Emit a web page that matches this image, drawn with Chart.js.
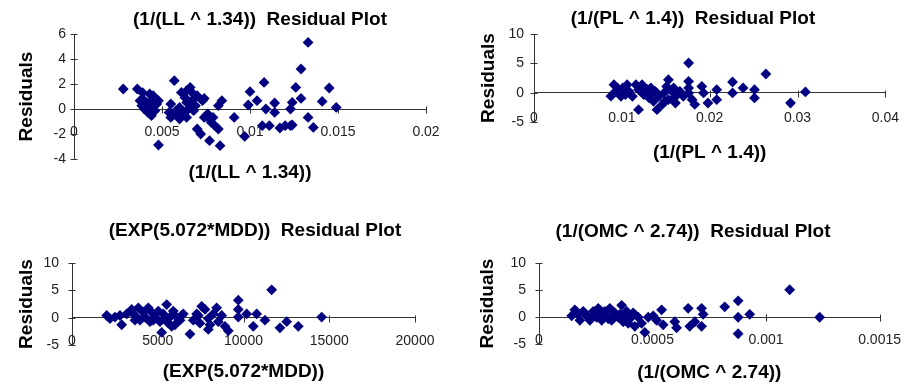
<!DOCTYPE html>
<html><head><meta charset="utf-8">
<script src="https://cdn.jsdelivr.net/npm/chart.js@4.4.0/dist/chart.umd.min.js"></script>
<style>
html,body{margin:0;padding:0;background:#fff;}
body{width:916px;height:387px;position:relative;overflow:hidden;}
canvas{position:absolute;}
</style></head><body>
<canvas id="c1" width="500" height="190" style="left:10px;top:0px;width:500px;height:190px"></canvas>
<canvas id="c2" width="446" height="170" style="left:470px;top:0px;width:446px;height:170px"></canvas>
<canvas id="c3" width="510" height="177" style="left:0px;top:210px;width:510px;height:177px"></canvas>
<canvas id="c4" width="446" height="177" style="left:470px;top:210px;width:446px;height:177px"></canvas>
<script>
// ---- (1/(LL ^ 1.34)) ----
const LL_X = [
  0.0028,0.0036,0.0039,0.0043,0.0045,0.00375,0.0041,0.00385,0.0040,0.0043,0.0042,0.0044,
  0.0047,0.0048,0.0055,0.0057,0.0054,0.0055,0.0058,0.0060,0.0061,0.0063,0.0064,0.0066,
  0.0067,0.0068,0.0066,0.0069,0.0062,0.0060,0.0064,0.0070,0.0074,0.0070,0.0072,0.0074,
  0.0076,0.0077,0.0079,0.0077,0.0080,0.0082,0.0083,0.0082,0.0084,0.0048,0.0091,0.0097,
  0.0100,0.0099,0.0104,0.0108,0.0109,0.0107,0.0111,0.0114,0.0114,0.0117,0.0120,0.0123,
  0.0124,0.0123,0.0124,0.0126,0.0129,0.0129,0.0133,0.0133,0.0136,0.0141,0.0145,0.0149,
  0.0039,0.0044,0.0041,0.0046,0.0056,0.0059,0.0065,0.0068,0.0073,0.0075,0.0078,0.0064
];
const LL_RES = [
  1.6,1.6,1.3,1.2,1.07,0.67,0.53,0.27,0,0.13,-0.27,-0.53,
  0.4,0.67,0.4,2.27,-0.27,-0.67,-0.13,0.13,1.33,0.93,0.53,1.73,
  1.33,0.8,0.27,0.27,-0.27,-0.8,-0.67,1.07,0.85,-1.6,-2.0,-0.67,
  -0.4,-0.8,-0.67,-2.53,-1.33,-1.6,-2.93,0.27,0.67,-2.88,-0.67,-2.19,
  1.39,0.32,0.67,2.13,0,-1.33,-1.33,0.48,-0.27,-1.52,-1.33,-1.33,
  -1.28,0,0.53,1.73,3.2,0.85,5.33,-0.67,-1.47,0.61,1.68,0.13,
  0.8,0.67,0.27,-0.13,-0.4,-0.53,0,-0.13,0.67,-0.53,-1.07,1.47
];
const LL_XTICKS = [0, 0.005, 0.01, 0.015, 0.02];
const LL_YTICKS = [-4, -2, 0, 2, 4, 6];

// ---- (1/(PL ^ 1.4)) ----
const PL_X = [
  0.00875,0.0091,0.0093,0.0099,0.0101,0.0106,0.0108,0.0112,0.0116,0.0119,0.0123,0.0119,
  0.0125,0.0129,0.0131,0.0134,0.0136,0.0140,0.0142,0.0146,0.0148,0.0151,0.0153,0.0153,
  0.0157,0.0159,0.0163,0.0166,0.0170,0.0176,0.0176,0.0176,0.0176,0.0180,0.0183,0.0191,
  0.0193,0.0198,0.0208,0.0208,0.0226,0.0226,0.0238,0.0251,0.0251,0.0264,0.0292,0.0309,
  0.0095,0.0104,0.0133,0.0138,0.0149,0.0159,0.0161
];
const PL_RES = [
  -0.6,1.36,0.23,-0.63,0.8,1.36,0.23,-0.63,1.36,0.51,1.36,-2.9,
  -0.34,0.51,-0.9,-0.05,-1.48,-2.9,-0.63,-2.0,-0.05,1.07,2.2,-1.2,
  0.23,-0.9,-0.34,0.23,-0.63,5.06,1.93,0.8,-0.05,-1.2,-2.0,1.07,
  -0.05,-1.76,0.51,-1.2,1.82,-0.05,0.8,0.51,-0.9,3.18,-1.76,0.12,
  0.8,-0.34,0.8,0.23,-1.48,0.8,-1.76
];
const PL_XTICKS = [0, 0.01, 0.02, 0.03, 0.04];
const PL_YTICKS = [-5, 0, 5, 10];

// ---- (EXP(5.072*MDD)) ----
const MDD_X = [
  2023,2215,2897,2798,3190,3480,3673,3866,3964,4157,4256,4448,
  4547,4646,4839,5031,5130,5229,5323,5521,5614,5713,5906,6005,
  6104,6296,6489,6879,7072,7270,7462,7562,7755,7947,7947,8238,
  8436,8529,8728,8920,9112,9696,9696,9696,10185,10570,10768,11252,
  11642,12126,12517,13194,14557,2507,3673,4740,5422,5812,6395,8045,
  7363
];
const MDD_RES = [
  0.4,-0.17,-1.3,0.4,0.68,1.5,0.4,1.8,-0.45,0.97,0.1,1.8,
  -0.73,0.97,0.1,1.2,-0.73,-2.7,0.68,2.4,-1.0,0.1,1.2,-1.3,
  0.1,-0.45,0.68,-3.0,-0.45,0.68,-1.0,2.08,1.5,-0.17,-2.15,0.68,
  1.8,-0.73,0.4,-1.58,-2.4,3.2,1.5,0.1,0.68,-1.58,0.68,-0.45,
  5.1,-1.86,-0.73,-1.58,0.1,0.1,-0.45,-0.45,-0.17,-1.58,0.4,-1.3,
  0.4
];
const MDD_XTICKS = [0, 5000, 10000, 15000, 20000];
const MDD_YTICKS = [-5, 0, 5, 10];

// ---- (1/(OMC ^ 2.74)) ----
const OMC_X = [
  0.000158,0.000144,0.000180,0.000195,0.000210,0.000224,0.000239,0.000254,0.000261,0.000276,0.000290,0.000298,
  0.000312,0.000320,0.000334,0.000349,0.000364,0.000371,0.000386,0.000400,0.000415,0.000422,0.000437,0.000452,
  0.000466,0.000481,0.000503,0.000518,0.000540,0.000547,0.000598,0.000606,0.000657,0.000664,0.000686,0.000716,
  0.000723,0.000716,0.000818,0.000877,0.000877,0.000877,0.000928,0.001104,0.001236,0.000173,0.000217,0.000246,
  0.000268,0.000283,0.000305,0.000327,0.000356,0.000378,0.000393
];
const OMC_RES = [
  1.33,0.22,-0.6,1.05,0.22,-0.6,1.05,-0.05,1.6,-0.6,1.05,0.22,
  1.6,-0.6,0.78,-0.05,2.17,-0.88,1.05,-0.33,0.78,-1.72,-0.05,-1.17,
  -2.83,-0.05,0.22,-0.6,1.33,-1.45,-0.88,-2.0,1.6,-1.72,-0.88,1.6,
  0.5,-1.72,1.88,3.0,-0.05,-3.1,0.5,5.05,-0.05,0.5,-0.05,0.5,
  0.22,-0.05,-0.33,0.22,0.5,0.22,-1.17
];
const OMC_XTICKS = [0, 0.0005, 0.001, 0.0015];
const OMC_YTICKS = [-5, 0, 5, 10];

const Y_TITLE = 'Residuals';
const FONT = 'Arial, "Liberation Sans", Helvetica, sans-serif';
Chart.defaults.font.family = FONT;
Chart.defaults.color = '#1a1a1a';

const crossTicks = {
  id: 'crossTicks',
  beforeDatasetsDraw(chart) {
    const {ctx, scales: {x, y}} = chart;
    const y0 = Math.round(y.getPixelForValue(0)) + 0.5;
    const x0 = Math.round(chart.chartArea.left) + 0.5;
    ctx.save();
    ctx.strokeStyle = '#333';
    ctx.lineWidth = 1;
    ctx.beginPath();
    x.ticks.forEach(t => {
      const px = Math.round(x.getPixelForValue(t.value)) + 0.5;
      ctx.moveTo(px, y0 - 3); ctx.lineTo(px, y0 + 4);
    });
    y.ticks.forEach(t => {
      const py = Math.round(y.getPixelForValue(t.value)) + 0.5;
      ctx.moveTo(x0 - 4, py); ctx.lineTo(x0 + 3, py);
    });
    ctx.stroke();
    ctx.restore();
  }
};

const TFONT = {size: 19, weight: 'bold'};

function build(id, p) {
  const pts = p.xs.map((v, i) => ({x: v, y: p.ys[i]}));
  return new Chart(document.getElementById(id), {
    type: 'scatter',
    data: {datasets: [{
      data: pts, pointStyle: 'rectRot', pointRadius: 5.4, pointHoverRadius: 5.4,
      backgroundColor: '#000080', borderColor: '#000080', borderWidth: 0
    }]},
    options: {
      responsive: false, animation: false, events: [],
      layout: {padding: 0},
      plugins: {
        legend: {display: false}, tooltip: {enabled: false},
        title: {display: true, text: p.title, color: '#000',
          font: TFONT, padding: {top: p.tTop, bottom: p.tBottom}},
        subtitle: {display: true, position: 'bottom', fullSize: false, text: p.xTitle, color: '#000',
          font: TFONT, padding: {top: p.sTop, bottom: p.sBottom}}
      },
      scales: {
        x: {
          type: 'linear', position: {y: 0},
          min: p.xTicks[0], max: p.xTicks[p.xTicks.length - 1],
          afterBuildTicks: s => { s.ticks = p.xTicks.map(v => ({value: v})); },
          ticks: {callback: v => String(v), font: {size: 14}, color: '#222',
            padding: p.xPad, maxRotation: 0, minRotation: 0, autoSkip: false},
          grid: {display: false, drawTicks: false},
          border: {display: true, color: '#333', width: 1}
        },
        y: {
          type: 'linear', position: 'left',
          min: p.yTicks[0], max: p.yTicks[p.yTicks.length - 1],
          afterBuildTicks: s => { s.ticks = p.yTicks.map(v => ({value: v})); },
          afterFit: s => { s.width = p.yWidth; },
          ticks: {callback: v => String(v), font: {size: 14}, color: '#222', padding: p.yPad, autoSkip: false},
          grid: {display: false, drawTicks: false},
          border: {display: true, color: '#333', width: 1},
          title: {display: true, text: Y_TITLE, color: '#000',
            font: TFONT, padding: {top: p.yTitlePad, bottom: 0}}
        },
        yR: {
          type: 'linear', axis: 'y', position: 'right', display: true,
          afterFit: s => { s.width = p.padRight; },
          ticks: {display: false}, grid: {display: false, drawTicks: false},
          border: {display: false}
        }
      }
    },
    plugins: [crossTicks]
  });
}

build('c1', {xs: LL_X, ys: LL_RES, xTicks: LL_XTICKS, yTicks: LL_YTICKS,
  title: '(1/(LL ^ 1.34))  Residual Plot', xTitle: '(1/(LL ^ 1.34))',
  yWidth: 64, padRight: 84, tTop: 8.6, tBottom: 2.6, sTop: 2.6, sBottom: 5.6, yTitlePad: 5.6, xPad: 15, yPad: 8});
build('c2', {xs: PL_X, ys: PL_RES, xTicks: PL_XTICKS, yTicks: PL_YTICKS,
  title: '(1/(PL ^ 1.4))  Residual Plot', xTitle: '(1/(PL ^ 1.4))',
  yWidth: 64, padRight: 27, tTop: 7.6, tBottom: 3.6, sTop: 19.6, sBottom: 5.6, yTitlePad: 7.6, xPad: 17, yPad: 10});
build('c3', {xs: MDD_X, ys: MDD_RES, xTicks: MDD_XTICKS, yTicks: MDD_YTICKS,
  title: '(EXP(5.072*MDD))  Residual Plot', xTitle: '(EXP(5.072*MDD))',
  yWidth: 72, padRight: 95, tTop: 9.6, tBottom: 20.6, sTop: 15.6, sBottom: 3.6, yTitlePad: 15.6, xPad: 15, yPad: 13});
build('c4', {xs: OMC_X, ys: OMC_RES, xTicks: OMC_XTICKS, yTicks: OMC_YTICKS,
  title: '(1/(OMC ^ 2.74))  Residual Plot', xTitle: '(1/(OMC ^ 2.74))',
  yWidth: 69, padRight: 36, tTop: 10.6, tBottom: 19.6, sTop: 17.6, sBottom: 2.6, yTitlePad: 6.6, xPad: 15, yPad: 13});
</script>
</body></html>
